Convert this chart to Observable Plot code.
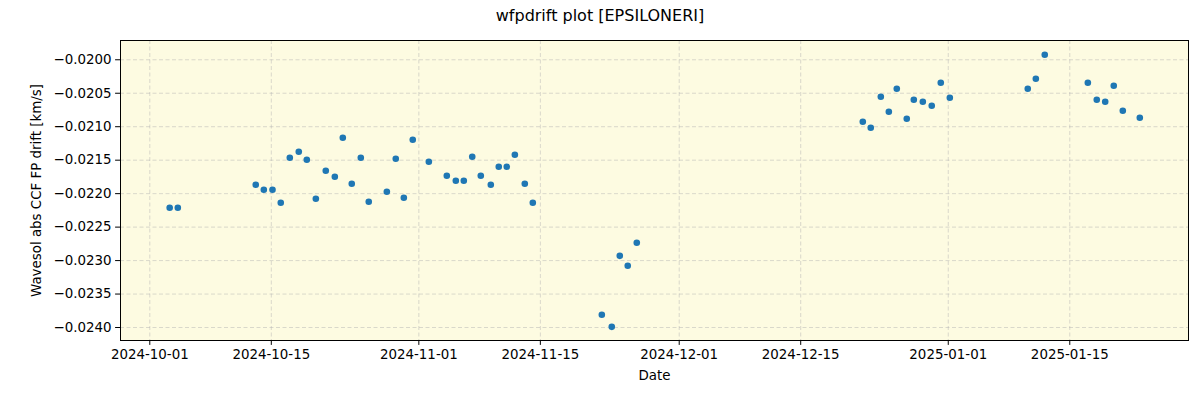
<!DOCTYPE html>
<html>
<head>
<meta charset="utf-8">
<script src="https://cdn.jsdelivr.net/npm/d3@7"></script>
<script src="https://cdn.jsdelivr.net/npm/@observablehq/plot@0.6"></script>
<style>
  html, body { margin: 0; padding: 0; background: #ffffff; }
  #title { height: 32px; line-height: 32px; text-align: center; font-family: "DejaVu Sans", sans-serif; font-size: 16px; color: #000; width: 1200px; }
  #chart { width: 1200px; }
</style>
</head>
<body>
<div id="title">wfpdrift plot [EPSILONERI]</div>
<div id="chart"></div>
<script>
const dates = [
  "2024-10-03T07:00Z","2024-10-04T05:30Z","2024-10-13T05:00Z","2024-10-14T03:20Z","2024-10-15T03:20Z",
  "2024-10-16T02:10Z","2024-10-17T03:10Z","2024-10-18T04:00Z","2024-10-19T02:10Z","2024-10-20T03:10Z",
  "2024-10-21T06:40Z","2024-10-22T07:40Z","2024-10-23T05:45Z","2024-10-24T06:30Z","2024-10-25T07:30Z",
  "2024-10-26T05:30Z","2024-10-28T07:30Z","2024-10-29T08:10Z","2024-10-30T06:30Z","2024-10-31T07:10Z",
  "2024-11-02T03:40Z","2024-11-04T05:20Z","2024-11-05T06:15Z","2024-11-06T04:20Z","2024-11-07T03:40Z",
  "2024-11-08T03:20Z","2024-11-09T07:00Z","2024-11-10T05:00Z","2024-11-11T03:10Z","2024-11-12T01:30Z",
  "2024-11-13T05:00Z","2024-11-14T03:10Z","2024-11-22T02:00Z","2024-11-23T05:30Z","2024-11-24T03:40Z",
  "2024-11-25T01:40Z","2024-11-26T02:40Z","2024-12-22T03:40Z","2024-12-23T01:40Z","2024-12-24T05:30Z",
  "2024-12-25T03:40Z","2024-12-26T01:40Z","2024-12-27T05:15Z","2024-12-28T00:45Z","2024-12-29T01:40Z",
  "2024-12-30T02:20Z","2024-12-31T03:20Z","2025-01-01T04:20Z","2025-01-10T03:50Z","2025-01-11T02:10Z",
  "2025-01-12T02:50Z","2025-01-17T02:00Z","2025-01-18T02:40Z","2025-01-19T02:00Z","2025-01-20T01:40Z",
  "2025-01-21T02:40Z","2025-01-23T01:40Z"
];
const values = [
  -0.022211,-0.022211,-0.021868,-0.021942,-0.021942,
  -0.022137,-0.021464,-0.021375,-0.021494,-0.022077,
  -0.021659,-0.021748,-0.021166,-0.021853,-0.021464,
  -0.022122,-0.021972,-0.021479,-0.022062,-0.021195,
  -0.021524,-0.021733,-0.021808,-0.021808,-0.021449,
  -0.021733,-0.021868,-0.021599,-0.021599,-0.021420,
  -0.021853,-0.022137,-0.023810,-0.023990,-0.022929,
  -0.023078,-0.022734,-0.020926,-0.021016,-0.020553,
  -0.020777,-0.020433,-0.020882,-0.020598,-0.020628,
  -0.020687,-0.020344,-0.020568,-0.020433,-0.020284,
  -0.019925,-0.020344,-0.020598,-0.020628,-0.020388,
  -0.020762,-0.020867
];
const xTickLabels = ["2024-10-01","2024-10-15","2024-11-01","2024-11-15","2024-12-01","2024-12-15","2025-01-01","2025-01-15"];
const yTickValues = [-0.0200,-0.0205,-0.0210,-0.0215,-0.0220,-0.0225,-0.0230,-0.0235,-0.0240];

const data = dates.map((d, i) => ({date: new Date(d), value: values[i]}));
const xTicks = xTickLabels.map(s => new Date(s + "T00:00Z"));

const font = "DejaVu Sans, sans-serif";
const chart = Plot.plot({
  width: 1200,
  height: 368,
  marginLeft: 120,
  marginRight: 12,
  marginTop: 8,
  marginBottom: 60,
  style: {fontFamily: font, fontSize: "13.4px", color: "#000", background: "#ffffff", overflow: "visible"},
  x: {type: "utc", domain: [new Date("2024-09-27T15:00Z"), new Date("2025-01-28T16:20Z")]},
  y: {domain: [-0.024194, -0.019712]},
  marks: [
    Plot.frame({fill: "#fdfbe1", stroke: null}),
    Plot.gridX(xTicks, {stroke: "#b0b0b0", strokeOpacity: 0.6, strokeDasharray: "4,2.5", strokeWidth: 0.8}),
    Plot.gridY(yTickValues, {stroke: "#b0b0b0", strokeOpacity: 0.6, strokeDasharray: "4,2.5", strokeWidth: 0.8}),
    Plot.dot(data, {x: "date", y: "value", r: 3.3, fill: "#1f77b4", stroke: null}),
    Plot.frame({stroke: "#000", strokeWidth: 1}),
    Plot.axisX(xTicks, {tickFormat: d3.utcFormat("%Y-%m-%d"), tickSize: 4.9, tickPadding: 4, label: "Date", labelAnchor: "center", labelArrow: "none", labelOffset: 39, fontSize: 13.4}),
    Plot.axisY(yTickValues, {tickFormat: d3.format(".4f"), tickSize: 4.9, tickPadding: 4, label: "Wavesol abs CCF FP drift [km/s]", labelAnchor: "center", labelArrow: "none", labelOffset: 89, fontSize: 13.4})
  ]
});
document.getElementById("chart").appendChild(chart);
</script>
</body>
</html>
